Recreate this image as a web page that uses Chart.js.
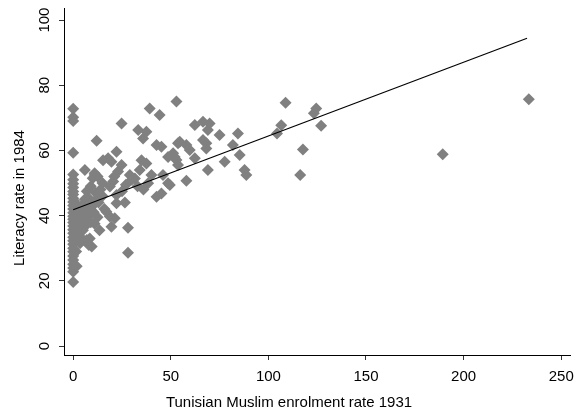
<!DOCTYPE html>
<html>
<head>
<meta charset="utf-8">
<script src="https://cdn.jsdelivr.net/npm/chart.js@4.4.1/dist/chart.umd.min.js"></script>
<style>
  body { margin: 0; background: #fff; }
  #wrap { width: 577px; height: 414px; }
</style>
</head>
<body>
<div id="wrap"><canvas id="scatter" width="577" height="414"></canvas></div>
<script>
// enrolment rate 1931 (x) and literacy rate 1984 (y)
const enrolment = [
  0, 0, 0, 0, 0, 0, 0, 0, 0, 0, 0, 0, 0, 0, 0, 0,
  0, 0, 0, 0, 0, 0, 0, 0, 0, 0, 0, 0, 0, 0, 0, 0,
  1, 1.2, 0.8, 1.5, 0.6, 1.8,
  2.5, 3.5, 3, 4, 2.5, 4.5, 3.5, 5, 5.5, 6, 6.5, 5, 7, 8, 9.5, 8.5, 6, 7.5, 8, 9, 7, 8.5,
  10, 10.5, 9, 10, 11, 6, 11, 12.5, 11.5, 12, 13, 12.5, 11, 13.5, 14, 15, 15, 16, 12,
  15.3, 17.9, 19.6, 18.8, 17, 18.8, 21.3, 19.6, 22.2, 22.2, 22.2, 24.8, 23, 24.8, 20.5,
  25, 26.5, 28.1, 28.1, 29, 27, 30, 21,
  33.3, 37.5, 35.8, 39.2, 35, 37.5, 34.1, 31.6, 38.4, 40.1, 33, 36, 44.3, 42.7, 45.2,
  46, 48.6, 48.6, 42.7, 45.2, 49.5,
  52.9, 53.7, 52, 53.7, 54.6, 58, 59.7, 51.2, 52.9, 58,
  62.3, 66.5, 69.9, 69, 75, 84.4, 66.5, 68.2, 68.2, 81.8, 62.3, 85.3, 77.6, 69, 87.8, 88.7,
  104.4, 106.6, 108.8, 117.7, 116.3, 123.3, 124.5, 127,
  189.3, 233.4
];
const literacy = [
  72.8, 70.2, 69.0, 59.3, 52.6, 51.0, 49.8, 48.6, 47.4, 46.5, 45.3, 44.2, 43.1, 42.0, 40.9, 39.8,
  38.9, 37.9, 36.8, 35.7, 34.6, 33.4, 32.3, 31.2, 30.0, 28.9, 27.6, 26.4, 25.1, 23.9, 22.8, 19.6,
  41.5, 37, 33.5, 29, 44.5, 24.5,
  42.5, 40, 38, 36.5, 35, 33, 31.5, 43.5, 41, 39, 37, 35.5, 32.5, 31, 30.5, 33, 45, 42, 40, 38, 47.5, 45,
  43, 41, 49, 51.5, 52.5, 54, 53, 52, 47, 45, 44, 39.5, 37.5, 35.5, 48, 50, 46, 42, 63,
  57, 57.6, 56.5, 48.9, 41.2, 39.7, 39.2, 36.6, 46.3, 43.8, 59.6, 68.3, 53.5, 55.5, 50.5,
  47.5, 44, 36.3, 28.6, 52.5, 49.5, 51, 52,
  66.3, 65.7, 63.7, 72.9, 57, 56, 54, 51.4, 49.9, 52.5, 49, 48, 70.9, 61.7, 61.1,
  52.5, 49.9, 58, 45.8, 46.8, 49.4,
  75, 62.2, 58, 55.5, 62.7, 61.7, 60.1, 59.1, 57.1, 50.7,
  67.8, 68.8, 68.3, 66.3, 64.7, 65.2, 63.2, 62.2, 60.6, 61.7, 57.6, 58.6, 56.5, 54, 54, 52.5,
  65.2, 67.7, 74.6, 60.3, 52.5, 71.4, 72.9, 67.6,
  58.8, 75.7
];
// fitted line end points
const fitX = [0, 232.5];
const fitY = [41.8, 94.4];

const xTicks = [0, 50, 100, 150, 200, 250];
const yTicks = [0, 20, 40, 60, 80, 100];

const FONT = 'Liberation Sans, Arial, Helvetica, sans-serif';

// axis titles, centred on the whole graph like the original
const axisTitles = {
  id: 'axisTitles',
  afterDraw(chart) {
    const ctx = chart.ctx;
    ctx.save();
    ctx.fillStyle = '#000';
    ctx.font = '15px ' + FONT;
    ctx.textAlign = 'center';
    ctx.textBaseline = 'middle';
    ctx.fillText('Tunisian Muslim enrolment rate 1931', 289, 403);
    ctx.translate(20, 198);
    ctx.rotate(-Math.PI / 2);
    ctx.fillText('Literacy rate in 1984', 0, 0);
    ctx.restore();
  }
};

const points = enrolment.map((x, i) => ({ x: x, y: literacy[i] }));
const fitLine = fitX.map((x, i) => ({ x: x, y: fitY[i] }));

new Chart(document.getElementById('scatter'), {
  type: 'scatter',
  data: {
    datasets: [
      {
        type: 'line',
        label: 'Fitted values',
        data: fitLine,
        borderColor: '#000',
        borderWidth: 1.2,
        pointRadius: 0,
        fill: false,
        order: 0
      },
      {
        label: 'Literacy rate in 1984',
        data: points,
        pointStyle: 'rectRot',
        pointRadius: 6,
        pointBackgroundColor: '#808080',
        pointBorderWidth: 0,
        order: 1
      }
    ]
  },
  options: {
    responsive: false,
    animation: false,
    devicePixelRatio: 1,
    layout: { padding: { left: 0, top: 8, right: 7, bottom: 0 } },
    plugins: {
      legend: { display: false },
      tooltip: { enabled: false }
    },
    scales: {
      x: {
        type: 'linear',
        min: -4.7,
        max: 254.5,
        afterBuildTicks: s => { s.ticks = xTicks.map(v => ({ value: v })); },
        afterFit: s => { s.height = 59; s.paddingLeft = 0; s.paddingRight = 0; },
        border: { display: true, color: '#000', width: 1 },
        grid: { drawOnChartArea: false, drawTicks: true, tickLength: 5, color: '#333' },
        ticks: { color: '#000', font: { family: FONT, size: 15 }, padding: 8, autoSkip: false, maxRotation: 0 }
      },
      y: {
        type: 'linear',
        min: -2.76,
        max: 103.7,
        afterBuildTicks: s => { s.ticks = yTicks.map(v => ({ value: v })); },
        afterFit: s => { s.width = 64; s.paddingTop = 0; s.paddingBottom = 0; },
        border: { display: true, color: '#000', width: 1 },
        grid: { drawOnChartArea: false, drawTicks: true, tickLength: 5, color: '#333' },
        ticks: {
          color: '#000', font: { family: FONT, size: 15 }, padding: 1.5,
          minRotation: 90, maxRotation: 90, crossAlign: 'center', autoSkip: false
        }
      }
    }
  },
  plugins: [axisTitles]
});
</script>
</body>
</html>
